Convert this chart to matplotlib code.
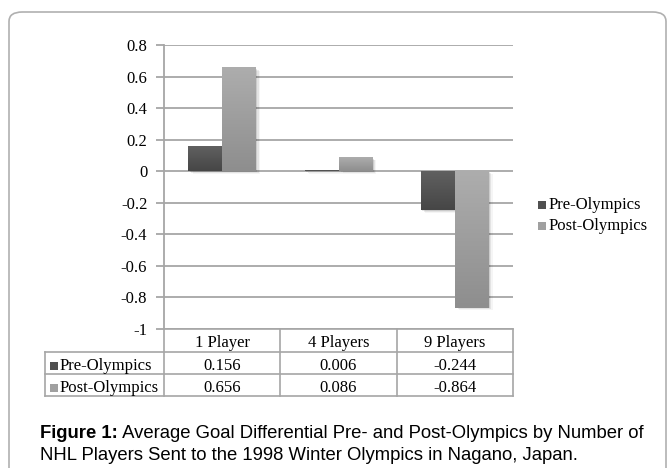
import numpy as np
import matplotlib
matplotlib.use('Agg')
import matplotlib.pyplot as plt
from matplotlib.colors import LinearSegmentedColormap
from matplotlib.patches import FancyBboxPatch, Rectangle
from matplotlib.lines import Line2D

categories = ['1 Player', '4 Players', '9 Players']
series_names = ['Pre-Olympics', 'Post-Olympics']
pre_olympics = [0.156, 0.006, -0.244]
post_olympics = [0.656, 0.086, -0.864]
yticks = [0.8, 0.6, 0.4, 0.2, 0, -0.2, -0.4, -0.6, -0.8, -1]
caption_bold = 'Figure 1:'
caption_line1 = ' Average Goal Differential Pre- and Post-Olympics by Number of'
caption_line2 = 'NHL Players Sent to the 1998 Winter Olympics in Nagano, Japan.'

W, H = 667, 468
plt.rcParams['axes.unicode_minus'] = False
serif = 'Liberation Serif'
sans = 'Liberation Sans'
grid_col = '#a6a6a6'
fs = 12

def fx(px):
    return px / W

def fy(py):
    return 1 - py / H

fig = plt.figure(figsize=(W / 100, H / 100), dpi=100)

# rounded frame around the figure
frame = FancyBboxPatch((fx(9), fy(500)), fx(657), (500 - 12) / H,
                       boxstyle='round,pad=0,rounding_size=0.02',
                       transform=fig.transFigure, fc='none', ec='#b0b0b0',
                       lw=1.2, zorder=-1)
fig.patches.append(frame)

ax_l, ax_r, ax_t, ax_b = 164, 513, 45, 329
ax = fig.add_axes([fx(ax_l), fy(ax_b), fx(ax_r - ax_l), (ax_b - ax_t) / H])
ax.set_facecolor('none')

x = np.arange(len(categories))
bw = 0.29
series = [pre_olympics, post_olympics]
shades = [('#606060', '#464646'), ('#adadad', '#8e8e8e')]
offsets = [-bw / 2, bw / 2]

grad = np.linspace(0, 1, 64).reshape(-1, 1)
for vals, (top, bot), off in zip(series, shades, offsets):
    cmap = LinearSegmentedColormap.from_list('g', [top, bot])
    for xi, v in zip(x, vals):
        x0 = xi + off - bw / 2
        lo, hi = min(0, v), max(0, v)
        # soft drop shadow
        for k, a in enumerate([0.10, 0.07, 0.04]):
            d = 0.012 * (k + 1)
            ax.add_patch(Rectangle((x0 + d, lo - 0.006 * (k + 1)), bw, hi - lo,
                                   fc='black', ec='none', alpha=a, zorder=1.5))
        ax.imshow(grad, extent=[x0, x0 + bw, lo, hi], cmap=cmap, aspect='auto',
                  interpolation='bicubic', zorder=2, origin='upper')

ax.set_xlim(-0.5, len(categories) - 0.5)
ax.set_ylim(-1, 0.8)
ax.set_yticks(yticks)
ax.set_yticklabels(['%g' % t for t in yticks], fontfamily=serif, fontsize=fs)
ax.set_xticks([])
ax.yaxis.grid(True, color=grid_col, lw=1.3)
ax.set_axisbelow(True)
for s in ['top', 'right', 'bottom']:
    ax.spines[s].set_visible(False)
ax.spines['left'].set_color(grid_col)
ax.spines['left'].set_linewidth(1.3)
ax.tick_params(axis='y', length=6, width=1.3, color=grid_col, pad=6)

# data table below the plot
col_edges = [ax_l + i * (ax_r - ax_l) / len(categories) for i in range(len(categories) + 1)]
row_edges = [329, 352, 374, 396]
tab_left = 45
txt_dy = 2.5

def hline(x0, x1, y):
    fig.add_artist(Line2D([fx(x0), fx(x1)], [fy(y), fy(y)], color=grid_col, lw=1.2))

def vline(xp, y0, y1):
    fig.add_artist(Line2D([fx(xp), fx(xp)], [fy(y0), fy(y1)], color=grid_col, lw=1.2))

hline(ax_l, ax_r, row_edges[0])
for y in row_edges[1:]:
    hline(tab_left, ax_r, y)
for c in col_edges:
    vline(c, row_edges[0], row_edges[-1])
vline(tab_left, row_edges[1], row_edges[-1])

for i, cat in enumerate(categories):
    cx = (col_edges[i] + col_edges[i + 1]) / 2
    fig.text(fx(cx), fy((row_edges[0] + row_edges[1]) / 2 + txt_dy), cat,
             ha='center', va='center', fontfamily=serif, fontsize=fs)
    for r, vals in enumerate(series):
        cy = (row_edges[r + 1] + row_edges[r + 2]) / 2 + txt_dy
        fig.text(fx(cx), fy(cy), '%g' % vals[i], ha='center', va='center',
                 fontfamily=serif, fontsize=fs)

legend_cols = ['#505050', '#a0a0a0']
for r, name in enumerate(series_names):
    cy = (row_edges[r + 1] + row_edges[r + 2]) / 2 + txt_dy
    fig.add_artist(Rectangle((fx(50), fy(cy + 4)), fx(8), 8 / H,
                             fc=legend_cols[r], ec='none'))
    fig.text(fx(60), fy(cy), name, ha='left', va='center',
             fontfamily=serif, fontsize=fs)

# legend on the right
for r, (name, cy) in enumerate(zip(series_names, [205, 226])):
    fig.add_artist(Rectangle((fx(538), fy(cy + 4)), fx(8), 8 / H,
                             fc=legend_cols[r], ec='none'))
    fig.text(fx(549), fy(cy), name, ha='left', va='center',
             fontfamily=serif, fontsize=fs)

# caption
renderer = fig.canvas.get_renderer()
t = fig.text(fx(40), fy(433), caption_bold, ha='left', va='center',
             fontfamily=sans, fontweight='bold', fontsize=13.3)
bb = t.get_window_extent(renderer=renderer)
fig.text(bb.x1 / fig.dpi / fig.get_figwidth(), fy(433), caption_line1,
         ha='left', va='center', fontfamily=sans, fontsize=13.3)
fig.text(fx(40), fy(455), caption_line2, ha='left', va='center',
         fontfamily=sans, fontsize=13.3)

fig.savefig('out.png', dpi=100)
